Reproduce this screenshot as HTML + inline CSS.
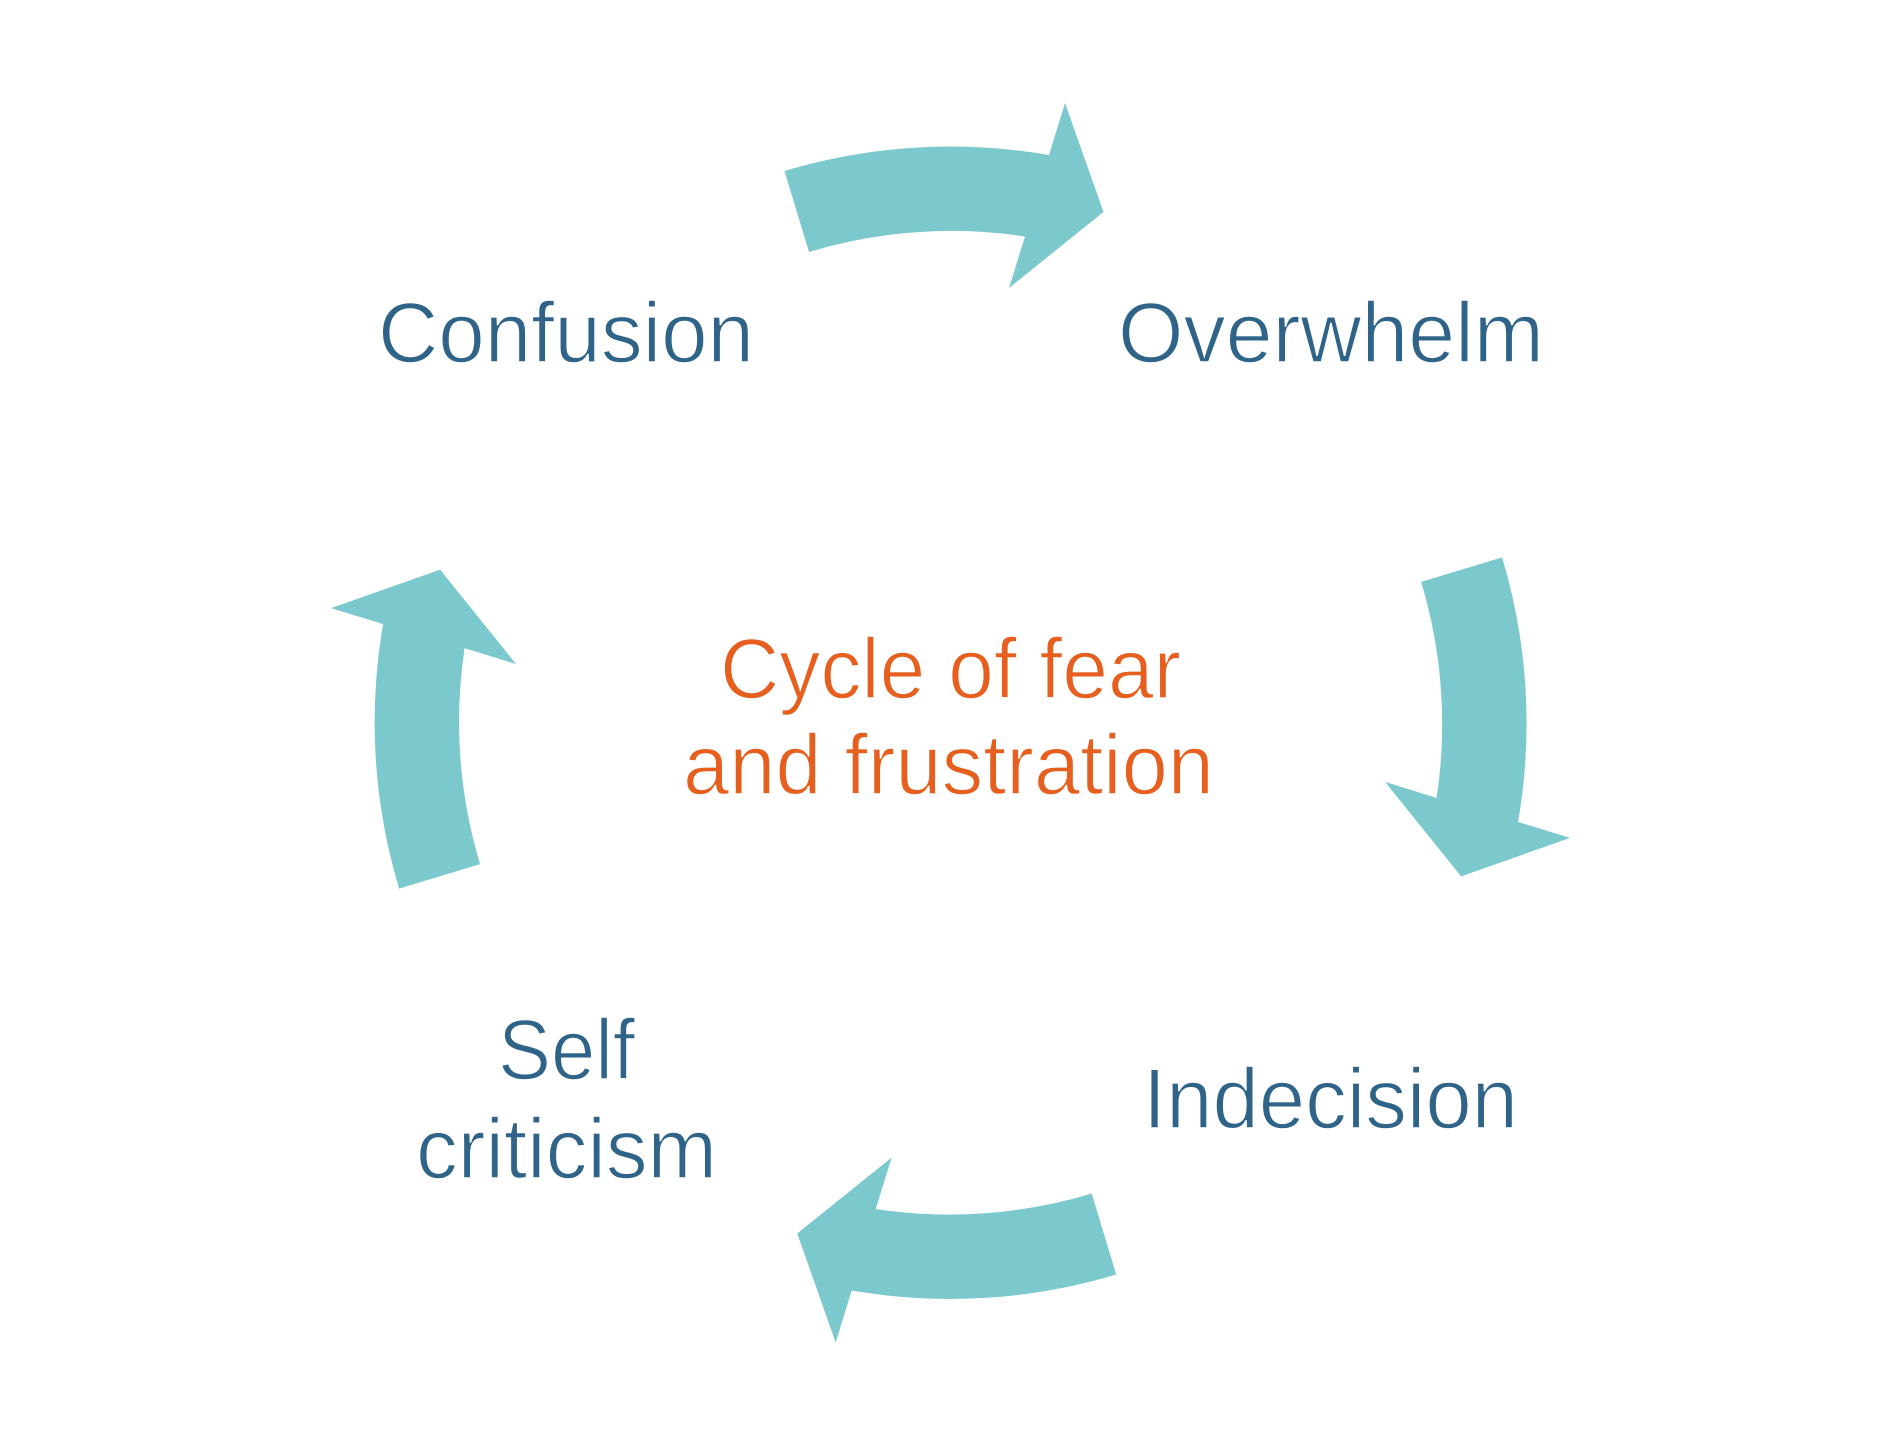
<!DOCTYPE html>
<html>
<head>
<meta charset="utf-8">
<style>
html,body{margin:0;padding:0;background:#fff;width:1903px;height:1440px;overflow:hidden}
svg{display:block}
text{font-family:"Liberation Sans",sans-serif;font-size:85px;stroke:#fff;stroke-width:1.5px;paint-order:normal}
.b{fill:#2F6488}
.o{fill:#E65F1F}
</style>
</head>
<body>
<svg width="1903" height="1440" viewBox="0 0 1903 1440" xmlns="http://www.w3.org/2000/svg">
<g fill="#7CC9CD">
<path d="M784.5 171 A576 576 0 0 1 1049 155 L1065 103 L1103.5 212 L1009 288 L1025 236.5 A491 491 0 0 0 809 252 Z"/>
<path transform="translate(1.5 -1.5) rotate(90 948.6 723)" d="M784.5 171 A576 576 0 0 1 1049 155 L1065 103 L1103.5 212 L1009 288 L1025 236.5 A491 491 0 0 0 809 252 Z"/>
<path transform="translate(3.5 -0.5) rotate(180 948.6 723)" d="M784.5 171 A576 576 0 0 1 1049 155 L1065 103 L1103.5 212 L1009 288 L1025 236.5 A491 491 0 0 0 809 252 Z"/>
<path transform="translate(2.5 1.5) rotate(270 948.6 723)" d="M784.5 171 A576 576 0 0 1 1049 155 L1065 103 L1103.5 212 L1009 288 L1025 236.5 A491 491 0 0 0 809 252 Z"/>
</g>
<text class="b" x="378" y="362" textLength="376" lengthAdjust="spacingAndGlyphs">Confusion</text>
<text class="b" x="1118" y="362" textLength="426" lengthAdjust="spacingAndGlyphs">Overwhelm</text>
<text class="o" x="720" y="698" textLength="461" lengthAdjust="spacingAndGlyphs">Cycle of fear</text>
<text class="o" x="683" y="794" textLength="531" lengthAdjust="spacingAndGlyphs">and frustration</text>
<text class="b" x="498" y="1079" textLength="137" lengthAdjust="spacingAndGlyphs">Self</text>
<text class="b" x="416" y="1178" textLength="301" lengthAdjust="spacingAndGlyphs">criticism</text>
<text class="b" x="1143" y="1128" textLength="375" lengthAdjust="spacingAndGlyphs">Indecision</text>
</svg>
</body>
</html>
